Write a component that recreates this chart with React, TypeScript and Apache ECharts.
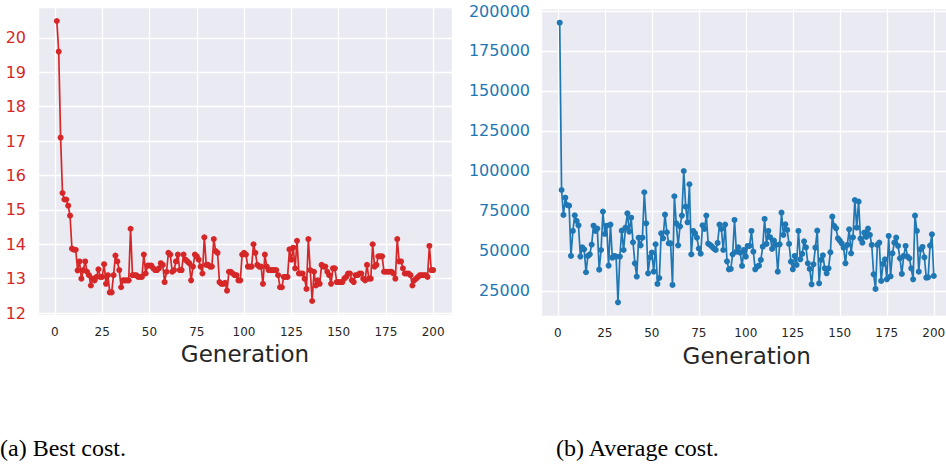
import React, { useEffect, useRef } from "react";
import * as echarts from "echarts";

// Best cost per generation (generation 1..200)
const bestCost: number[] = [
  20.49, 19.6, 17.1, 15.49, 15.3, 15.3, 15.12, 14.83, 13.87, 13.84,
  13.84, 13.24, 13.5, 13.0, 13.25, 13.5, 13.2, 13.1, 12.8, 13.0,
  12.95, 13.05, 13.27, 13.05, 13.05, 13.42, 12.85, 13.1, 12.6, 12.6,
  13.1, 13.67, 13.5, 13.25, 12.75, 12.95, 12.95, 12.95, 12.95, 14.45,
  13.1, 13.1, 13.1, 13.05, 13.05, 13.05, 13.7, 13.15, 13.38, 13.38,
  13.38, 13.3, 13.25, 13.25, 13.3, 13.45, 13.4, 12.9, 13.2, 13.75,
  13.7, 13.2, 13.25, 13.5, 13.7, 13.25, 13.25, 13.7, 13.55, 13.5,
  13.45, 12.95, 13.35, 13.7, 13.65, 13.55, 13.35, 13.15, 14.2, 13.4,
  13.4, 13.35, 13.35, 14.15, 13.8, 13.75, 12.9, 12.85, 12.85, 12.88,
  12.65, 13.2, 13.2, 13.15, 13.1, 13.1, 12.95, 12.95, 13.7, 13.75,
  13.7, 13.35, 13.35, 13.35, 14.0, 13.75, 13.4, 13.35, 13.35, 12.85,
  13.7, 13.35, 13.25, 13.25, 13.25, 13.25, 13.25, 13.1, 12.75, 12.75,
  13.05, 13.05, 13.05, 13.85, 13.55, 13.9, 13.3, 14.1, 13.15, 13.15,
  13.15, 13.0, 12.7, 14.15, 13.25, 12.35, 13.2, 12.8, 12.95, 12.85,
  13.4, 13.35, 13.35, 13.2, 13.1, 12.85, 13.3, 13.3, 12.9, 12.9,
  12.9, 12.9, 13.0, 13.05, 13.15, 13.15, 12.95, 12.9, 13.1, 13.1,
  13.15, 13.15, 13.0, 12.95, 13.4, 13.0, 13.0, 14.0, 13.35, 13.4,
  13.65, 13.65, 13.65, 13.2, 13.2, 13.2, 13.2, 13.2, 13.15, 13.0,
  14.15, 13.5, 13.5, 13.3, 13.15, 13.15, 13.15, 13.1, 12.8, 12.95,
  13.0, 13.05, 13.1, 13.1, 13.1, 13.1, 13.05, 13.95, 13.25, 13.25,
];

// Average cost per generation (generation 1..200)
const avgCost: number[] = [
  192700, 88100, 72500, 83300, 78750, 78300, 46900, 62500, 72300, 68750,
  66000, 46500, 52300, 51000, 36700, 46900, 47900, 54000, 65800, 62500,
  64000, 38300, 50600, 74600, 60600, 65800, 40800, 66500, 45800, 46900,
  46500, 17900, 46500, 62700, 50600, 64600, 73500, 62100, 70800, 55400,
  42300, 34000, 58300, 53500, 58300, 86700, 67300, 36000, 46000, 49000,
  37100, 54200, 29400, 33100, 61000, 57900, 72700, 61700, 54800, 54800,
  28750, 84200, 67300, 53500, 65400, 72100, 100000, 77700, 67900, 91700,
  47900, 62500, 61000, 58300, 51500, 48300, 66000, 63750, 72100, 54600,
  53750, 52700, 51500, 50600, 55000, 66500, 63750, 50600, 66500, 43500,
  38500, 38750, 47900, 69400, 49600, 52290, 48958, 40625, 50625, 46460,
  53125, 53125, 62500, 49583, 38540, 40210, 40830, 44375, 52710, 70000,
  54375, 62500, 58540, 51250, 56460, 53750, 37080, 54170, 73960, 60000,
  66670, 63125, 54375, 43330, 38540, 46875, 41250, 62500, 44790, 48125,
  56040, 52290, 42290, 38750, 29170, 41670, 52080, 62710, 29790, 44375,
  47290, 39170, 36040, 39170, 49170, 71460, 65625, 64170, 57920, 56460,
  54790, 52080, 42290, 53750, 63540, 48540, 58540, 81875, 64580, 80830,
  57710, 55210, 61460, 58750, 63960, 60000, 53750, 35420, 26250, 53750,
  55210, 31250, 41875, 44790, 32290, 59375, 34170, 48540, 55210, 58330,
  53125, 45420, 35625, 46875, 53125, 46460, 45420, 39170, 32290, 72080,
  62500, 37080, 51040, 52500, 46040, 33330, 33540, 53330, 60420, 34375,
];

const firstGeneration = 1;
const xTickStep = 25;
const bestTickStep = 1;
const avgTickStep = 25000;
const xLabel = "Generation";
const captions = ["(a) Best cost.", "(b) Average cost."];

const RED = "#d62728";
const BLUE = "#1f77b4";
const BG = "#eaeaf2";
const TEXT = "#262626";

function pad(values: number[]) {
  const lo = Math.min(...values);
  const hi = Math.max(...values);
  const m = (hi - lo) * 0.05;
  return [lo - m, hi + m];
}

export default function App() {
  const ref = useRef<HTMLDivElement>(null);
  useEffect(() => {
    if (!ref.current) return;
    const chart = echarts.init(ref.current, null, { renderer: "svg" });
    const xs = bestCost.map((_, i) => firstGeneration + i);
    const [xMin, xMax] = pad(xs);
    const [bMin, bMax] = pad(bestCost);
    const [aMin, aMax] = pad(avgCost);

    const xAxisBase = (gridIndex: number) => ({
      gridIndex,
      type: "value",
      min: xMin,
      max: xMax,
      minInterval: xTickStep,
      maxInterval: xTickStep,
      axisLine: { show: false },
      axisTick: { show: false },
      splitLine: { show: true, lineStyle: { color: "#ffffff", width: 1.3 } },
      axisLabel: {
        color: TEXT,
        fontSize: 12,
        fontFamily: "DejaVu Sans",
        margin: 11,
        showMinLabel: false,
        showMaxLabel: false,
        formatter: (v: number) => String(Math.round(v)),
      },
      name: xLabel,
      nameLocation: "middle",
      nameGap: 26,
      nameTextStyle: { fontSize: 23, color: TEXT, fontFamily: "DejaVu Sans" },
    });

    const yAxisBase = (gridIndex: number, min: number, max: number, step: number, color: string, margin: number) => ({
      gridIndex,
      type: "value",
      min,
      max,
      minInterval: step,
      maxInterval: step,
      axisLine: { show: false },
      axisTick: { show: false },
      splitLine: { show: true, lineStyle: { color: "#ffffff", width: 1.3 } },
      axisLabel: {
        color,
        fontSize: 16,
        fontFamily: "DejaVu Sans",
        margin,
        showMinLabel: false,
        showMaxLabel: false,
        formatter: (v: number) => String(Math.round(v)),
      },
    });

    const captionStyle = {
      fontFamily: "Liberation Serif",
      fontSize: 24,
      fontWeight: "normal",
      color: "#000000",
    };

    chart.setOption({
      animation: false,
      backgroundColor: "#ffffff",
      title: [
        { text: captions[0], left: 0, top: 436, padding: 0, textStyle: captionStyle },
        { text: captions[1], left: 556, top: 436, padding: 0, textStyle: captionStyle },
      ],
      grid: [
        {
          left: 38, top: 7, width: 414, height: 308,
          show: true, backgroundColor: BG, borderWidth: 0,
          containLabel: false, outerBoundsMode: "none",
        },
        {
          left: 541, top: 8.7, width: 411.5, height: 307.6,
          show: true, backgroundColor: BG, borderWidth: 0,
          containLabel: false, outerBoundsMode: "none",
        },
      ],
      xAxis: [xAxisBase(0), xAxisBase(1)],
      yAxis: [
        yAxisBase(0, bMin, bMax, bestTickStep, RED, 12),
        yAxisBase(1, aMin, aMax, avgTickStep, BLUE, 11),
      ],
      series: [
        {
          type: "line",
          xAxisIndex: 0,
          yAxisIndex: 0,
          data: bestCost.map((v, i) => [xs[i], v]),
          symbol: "circle",
          symbolSize: 6,
          showAllSymbol: true,
          lineStyle: { color: RED, width: 1.7 },
          itemStyle: { color: RED },
        },
        {
          type: "line",
          xAxisIndex: 1,
          yAxisIndex: 1,
          data: avgCost.map((v, i) => [xs[i], v]),
          symbol: "circle",
          symbolSize: 6,
          showAllSymbol: true,
          lineStyle: { color: BLUE, width: 1.7 },
          itemStyle: { color: BLUE },
        },
      ],
    });
    return () => chart.dispose();
  }, []);

  return (
    <div
      ref={ref}
      style={{ position: "fixed", left: 0, top: 0, width: 946, height: 465, overflow: "hidden" }}
    />
  );
}
